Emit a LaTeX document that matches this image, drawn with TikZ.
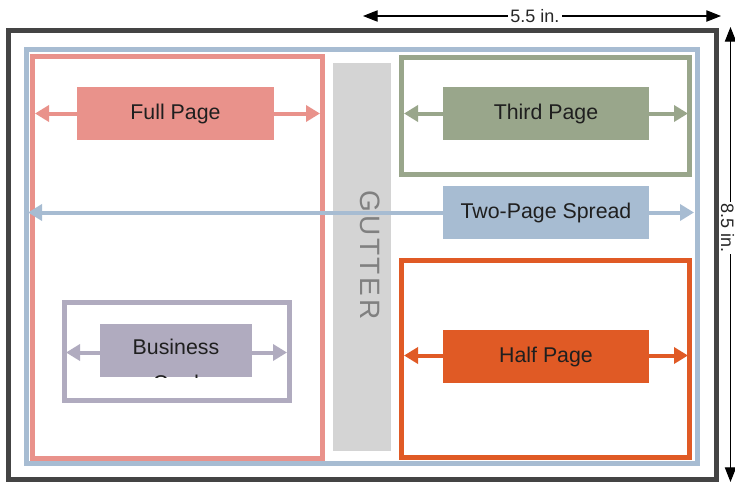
\documentclass[tikz,border=0pt]{standalone}
\usepackage{fontspec}
\setmainfont{Liberation Sans}
\newfontfamily\gutterfont[LetterSpace=10]{Liberation Sans}
\usetikzlibrary{arrows.meta}
\definecolor{darkframe}{HTML}{444444}
\definecolor{spreadblue}{HTML}{A7BCD2}
\definecolor{fullred}{HTML}{E9928B}
\definecolor{thirdgreen}{HTML}{99A68B}
\definecolor{halforange}{HTML}{E05A25}
\definecolor{cardgray}{HTML}{B0ABBF}
\definecolor{guttergray}{HTML}{D4D4D4}
\begin{document}
\begin{tikzpicture}[x=0.75pt,y=-0.75pt,
  frame/.style={line width=3.75pt},
  colarrow/.style={line width=3pt,{Triangle[length=10.5pt,width=12pt]}-{Triangle[length=10.5pt,width=12pt]}},
  dimarrow/.style={line width=0.8pt,black,{Triangle[length=11pt,width=8.5pt]}-{Triangle[length=11pt,width=8.5pt]}},
  adbox/.style={minimum width=154.5pt,minimum height=39.75pt,inner sep=0pt,font=\fontsize{16}{18}\selectfont,text=black!88},
  dimlabel/.style={fill=white,inner sep=2pt,font=\fontsize{13.5}{15}\selectfont,text=black!85}]
\useasboundingbox (0,0) rectangle (735,482);
% outer page frame
\draw[frame,darkframe] (8.5,30) rectangle (716,479);
% two-page spread frame
\draw[frame,spreadblue] (26,49.5) rectangle (697,463.5);
% gutter
\fill[guttergray] (333,63) rectangle (391,451);
\node[rotate=-90,text=black!50,font=\gutterfont\fontsize{21}{21}\selectfont] (gutter) at (370,255) {GUTTER};
% full page
\draw[frame,fullred] (32,56) rectangle (322.5,458);
\coordinate (fpL) at (35,113.5);
\coordinate (fpR) at (320,113.5);
\draw[colarrow,fullred] (fpL) -- (fpR);
\node[adbox,fill=fullred,minimum width=147.75pt] (fp) at (175.5,113.5) {Full Page};
% third page
\draw[frame,thirdgreen] (401.5,57.5) rectangle (689.5,174.5);
\coordinate (tpL) at (404,113.5);
\coordinate (tpR) at (688,113.5);
\draw[colarrow,thirdgreen] (tpL) -- (tpR);
\node[adbox,fill=thirdgreen] (tp) at (546,113.5) {Third Page};
% two page spread
\coordinate (spL) at (28,212.5);
\coordinate (spR) at (694,212.5);
\draw[colarrow,spreadblue] (spL) -- (spR);
\node[adbox,fill=spreadblue] (sp) at (546,212.5) {Two-Page Spread};
% half page
\draw[frame,halforange] (401.5,260.5) rectangle (689.5,457.5);
\coordinate (hpL) at (404,355.5);
\coordinate (hpR) at (688,355.5);
\draw[colarrow,halforange] (hpL) -- (hpR);
\node[adbox,fill=halforange] (hp) at (546,356.5) {Half Page};
% business card
\draw[frame,cardgray] (64,302.5) rectangle (289.5,400);
\coordinate (bcL) at (66,352.5);
\coordinate (bcR) at (287,352.5);
\draw[colarrow,cardgray] (bcL) -- (bcR);
\node[adbox,fill=cardgray,minimum width=114pt] (bc) at (176,350.5) {};
\begin{scope}
  \clip (bc.south west) rectangle (bc.north east);
  \node[font=\fontsize{16}{18}\selectfont,text=black!88,inner sep=0pt] (bctext) at (176,346.5) {Business};
  \node[font=\fontsize{16}{18}\selectfont,text=black!88,inner sep=0pt,anchor=base] (bctext2) at (176,390.5) {Card};
\end{scope}
% dimensions
\coordinate (wL) at (363,16);
\coordinate (wR) at (721,16);
\draw[dimarrow] (wL) -- (wR) node[dimlabel,pos=0.48] (wlab) {5.5 in.};
\coordinate (hT) at (730.5,27);
\coordinate (hB) at (730.5,482);
\draw[dimarrow] (hT) -- (hB);
\node[dimlabel,rotate=-90,inner sep=1pt] (hlab) at (727.5,228) {8.5 in.};
\end{tikzpicture}
\end{document}
